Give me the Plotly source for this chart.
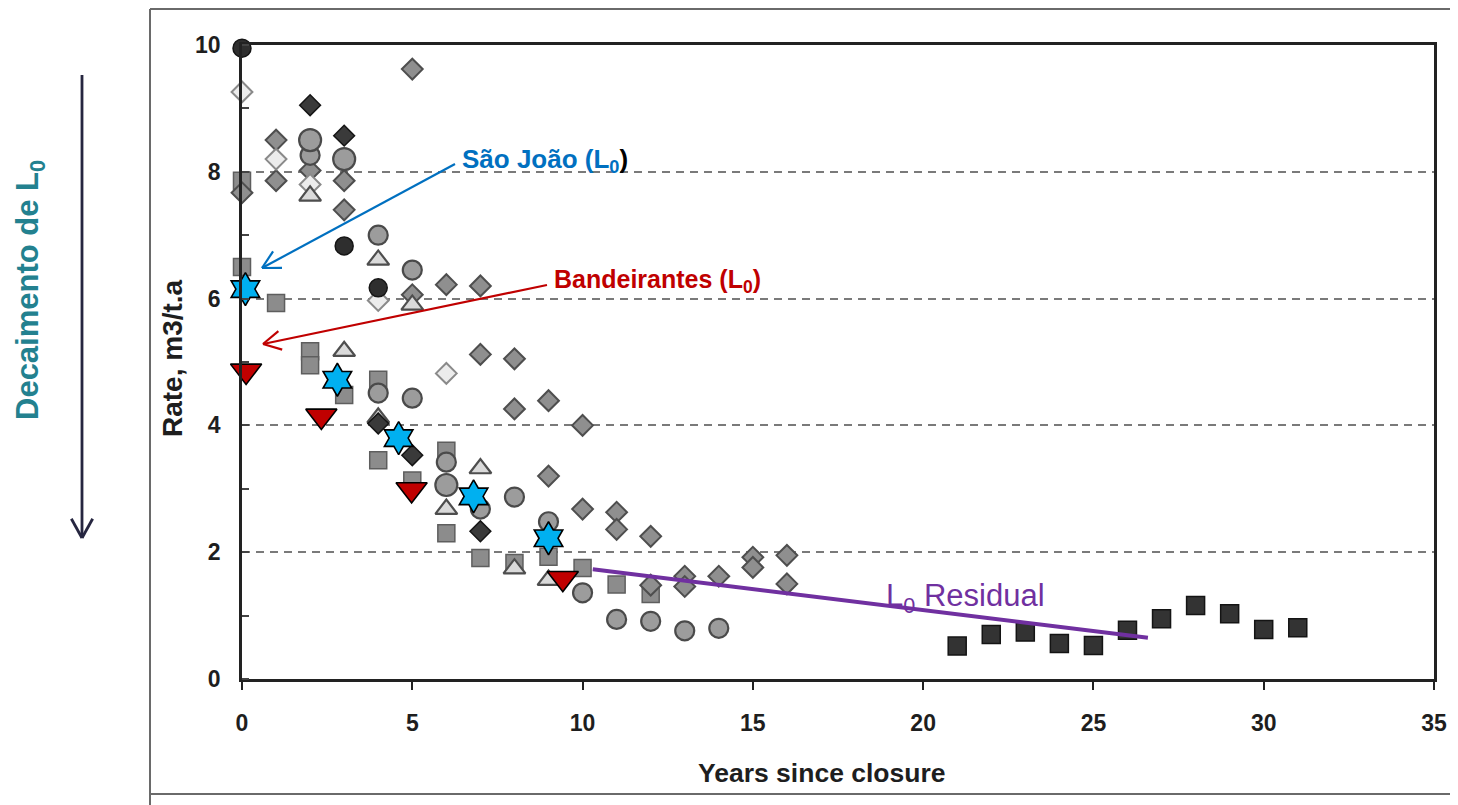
import math
import plotly.graph_objects as go

# ---------------- data: years since closure vs rate (m3/t.a) ----------------
grey_diamond_x = [0, 1, 1, 2, 3, 3, 5, 5, 6, 7, 7, 8, 8, 9, 10, 9, 10, 11, 11, 12, 12, 13, 13, 14, 15, 15, 16, 16]
grey_diamond_y = [7.67, 8.5, 7.86, 8.02, 7.86, 7.4, 9.62, 6.06, 6.22, 6.2, 5.12, 5.05, 4.26, 4.39, 4.0, 3.2,
                  2.68, 2.63, 2.36, 2.25, 1.48, 1.62, 1.46, 1.62, 1.92, 1.76, 1.95, 1.5]

light_diamond_x = [0, 1, 2, 4, 6]
light_diamond_y = [9.26, 8.2, 7.8, 5.97, 4.82]

dark_diamond_x = [2, 3, 4, 5, 7]
dark_diamond_y = [9.05, 8.57, 4.03, 3.53, 2.33]

grey_circle_x = [2, 4, 5, 4, 5, 6, 7, 8, 9, 10, 11, 12, 13, 14]
grey_circle_y = [8.26, 7.0, 6.45, 4.51, 4.43, 3.42, 2.68, 2.87, 2.48, 1.36, 0.94, 0.91, 0.76, 0.8]

big_circle_x = [2, 3, 6]
big_circle_y = [8.5, 8.2, 3.06]

dark_circle_x = [0, 3, 4]
dark_circle_y = [9.95, 6.83, 6.17]

grey_square_x = [0, 0, 1, 2, 2, 3, 4, 4, 5, 6, 6, 7, 8, 9, 10, 11, 12]
grey_square_y = [7.86, 6.5, 5.93, 5.17, 4.95, 4.48, 4.72, 3.45, 3.13, 3.6, 2.3, 1.91, 1.83, 1.93, 1.75, 1.49, 1.34]

triangle_x = [2, 3, 4, 4, 5, 6, 7, 8, 9]
triangle_y = [7.62, 5.17, 6.61, 4.12, 5.9, 2.68, 3.32, 1.74, 1.56]

dark_square_x = [21, 22, 23, 24, 25, 26, 27, 28, 29, 30, 31]
dark_square_y = [0.52, 0.70, 0.74, 0.56, 0.53, 0.77, 0.95, 1.16, 1.03, 0.78, 0.81]

sao_joao_x = [0.1, 2.8, 4.6, 6.8, 9.0]
sao_joao_y = [6.15, 4.72, 3.8, 2.88, 2.22]

bandeirantes_x = [0.12, 2.33, 4.98, 9.42]
bandeirantes_y = [4.86, 4.15, 2.99, 1.59]

residual_x = [10.3, 26.6]
residual_y = [1.73, 0.65]

x_ticks = [0, 5, 10, 15, 20, 25, 30, 35]
y_ticks = [0, 2, 4, 6, 8, 10]

# ---------------- layout geometry (page pixels; page has an 8px body margin) ----------------
OFF = 8
PAGE_W, PAGE_H = 1458, 805
FW, FH = PAGE_W - OFF, PAGE_H - OFF
L, R, T, B = 242, 1434, 45, 679
W, H = R - L, B - T


def P(px, py):
    return (px - L) / W, (B - py) / H


fig = go.Figure()


def add_markers(xs, ys, symbol, size, fill, line_color, line_width=1.5):
    fig.add_trace(go.Scatter(
        x=xs, y=ys, mode="markers", cliponaxis=False, showlegend=False, hoverinfo="x+y",
        marker=dict(symbol=symbol, size=size, color=fill,
                    line=dict(color=line_color, width=line_width))))


add_markers(grey_square_x, grey_square_y, "square", 17, "#8c8c8c", "#5e5e5e", 1.5)
add_markers(grey_diamond_x, grey_diamond_y, "diamond", 16, "#8f8f8f", "#4e4e4e", 2)
add_markers(light_diamond_x, light_diamond_y, "diamond", 16, "#ececec", "#8a8a8a", 2)
add_markers(grey_circle_x, grey_circle_y, "circle", 19, "#9c9c9c", "#4a4a4a", 2.2)
add_markers(big_circle_x, big_circle_y, "circle", 22, "#9c9c9c", "#4a4a4a", 2.2)
add_markers(dark_circle_x, dark_circle_y, "circle", 18, "#2e2e2e", "#151515", 1.5)
add_markers(triangle_x, triangle_y, "triangle-up", 19, "#dadada", "#4e4e4e", 2.2)
add_markers(dark_diamond_x, dark_diamond_y, "diamond", 16, "#3a3a3a", "#151515", 1.5)
add_markers(dark_square_x, dark_square_y, "square", 18, "#333333", "#141414", 1.5)

# residual trend line
fig.add_trace(go.Scatter(x=residual_x, y=residual_y, mode="lines", showlegend=False,
                         line=dict(color="#7030A0", width=4), cliponaxis=False))

# overlay series
add_markers(sao_joao_x, sao_joao_y, "hexagram", 25, "#00B0F0", "#000000", 1.6)
add_markers(bandeirantes_x, bandeirantes_y, "triangle-down", 27, "#C00000", "#000000", 1.6)

# ---------------- arrows (decorations) ----------------
shapes = []


def seg(p1, p2, color, width):
    a = P(*p1)
    b = P(*p2)
    shapes.append(dict(type="line", xref="paper", yref="paper", x0=a[0], y0=a[1], x1=b[0], y1=b[1],
                       line=dict(color=color, width=width), layer="above"))


def arrow(tail, tip, color, width, blen=20, ang=28):
    seg(tail, tip, color, width)
    dx, dy = tip[0] - tail[0], tip[1] - tail[1]
    n = math.hypot(dx, dy)
    ux, uy = dx / n, dy / n
    for s in (1, -1):
        a = math.radians(ang * s)
        rx = ux * math.cos(a) - uy * math.sin(a)
        ry = ux * math.sin(a) + uy * math.cos(a)
        seg(tip, (tip[0] - blen * rx, tip[1] - blen * ry), color, width)


arrow((455, 164), (262, 268), "#0070C0", 2.2)
arrow((547, 285), (263, 344), "#C00000", 2.2)
arrow((82, 75), (82, 538), "#262640", 2.8, blen=22, ang=29)

# scan page border
for p1, p2 in [((150, 9), (150, 805)), ((150, 9), (1458, 9)), ((150, 794), (1458, 794))]:
    seg(p1, p2, "#6a6a6a", 2)

# ---------------- annotations ----------------
FONT = "Liberation Sans, Arial, sans-serif"
ann = []


def text(px, py, s, size, color, xanchor="left", angle=0):
    x, y = P(px, py)
    ann.append(dict(x=x, y=y, xref="paper", yref="paper", text=s, showarrow=False,
                    xanchor=xanchor, yanchor="middle", textangle=angle,
                    font=dict(family=FONT, size=size, color=color)))


text(460, 160, "<b>São João (L<sub>0</sub><span style='color:#000000'>)</span></b>", 26, "#0070C0")
text(552, 281, "<b>Bandeirantes (L<sub>0</sub>)</b>", 25, "#C00000")
text(884, 598, "L<sub>0</sub> Residual", 31, "#7030A0")
text(30, 290, "<b>Decaimento de L<sub>0</sub></b>", 31, "#23818F", xanchor="center", angle=-90)
text(172, 358, "<b>Rate, m3/t.a</b>", 28, "#1e1e1e", xanchor="center", angle=-90)
text(822, 773, "<b>Years since closure</b>", 26.5, "#1e1e1e", xanchor="center")

fig.update_layout(
    width=FW, height=FH,
    margin=dict(l=L - OFF, r=FW - (R - OFF), t=T - OFF, b=FH - (B - OFF)),
    paper_bgcolor="white", plot_bgcolor="white",
    shapes=shapes, annotations=ann, showlegend=False,
    xaxis=dict(range=[0, 35], tickvals=x_ticks, ticks="outside", ticklen=8, tickwidth=2,
               tickcolor="#222", showline=True, linecolor="#222", linewidth=2.5, mirror=True,
               showgrid=False, zeroline=False, ticklabelstandoff=14,
               tickfont=dict(family=FONT, size=23, color="#1e1e1e", weight="bold")),
    yaxis=dict(range=[0, 10], tickvals=y_ticks, ticks="", showline=True, linecolor="#222",
               linewidth=2.5, mirror=True, zeroline=False, showgrid=True, gridcolor="#7a7a7a",
               gridwidth=2, griddash="8px,6px", ticklabelstandoff=14,
               minor=dict(ticks="inside", dtick=1, tick0=0, ticklen=7, tickwidth=2,
                          tickcolor="#444", showgrid=False),
               tickfont=dict(family=FONT, size=23, color="#1e1e1e", weight="bold")),
)

fig.write_html("out.html")
